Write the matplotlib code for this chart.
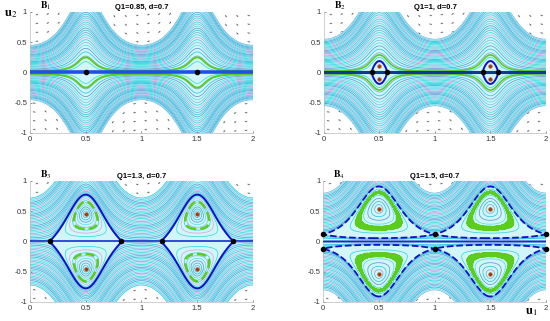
"""Phase portraits B1-B4 for Q1 in {0.85, 1, 1.3, 1.5}, d = 0.7."""

import numpy as np
import matplotlib

matplotlib.use("Agg")
import matplotlib.pyplot as plt

plt.rcParams["font.family"] = ["Liberation Sans", "DejaVu Sans"]
plt.rcParams["mathtext.fontset"] = "stix"

# --- panel data ---
PANEL_TAGS = ["1", "2", "3", "4"]
Q1_VALUES = [0.85, 1.0, 1.3, 1.5]
D_VALUE = 0.7

# potential a(u1) = A_MEAN + A_AMP * (-cos 2 pi u1), weight exp(-BETA * (-cos 2 pi u1))
A_MEAN = [-0.40, -0.2532, 0.0483, 0.1759]
A_AMP = [0.40, 0.2798, 0.1135, 0.0283]
BETA = 0.8
P_EXP, Q_EXP = 2.56, 1.28

# equilibria
SADDLES = [
    [(0.5, 0.0), (1.5, 0.0)],
    [(0.43, 0.0), (0.57, 0.0), (1.43, 0.0), (1.57, 0.0)],
    [(0.18, 0.0), (0.82, 0.0), (1.18, 0.0), (1.82, 0.0)],
    [(0.0, 0.12), (1.0, 0.12), (2.0, 0.12), (0.0, -0.12), (1.0, -0.12), (2.0, -0.12)],
]
CENTERS = [
    [],
    [(0.5, 0.11), (0.5, -0.11), (1.5, 0.11), (1.5, -0.11)],
    [(0.5, 0.45), (0.5, -0.45), (1.5, 0.45), (1.5, -0.45)],
    [(0.5, 0.54), (0.5, -0.54), (1.5, 0.54), (1.5, -0.54)],
]
# highest streamline at u1 = 0 (or 1), and number of streamlines
OUTER_TOP = [0.45, 0.55, 0.72, 0.80]
OUTER_COUNT = [30, 30, 30, 30]
INNER_COUNT = [0, 0, 9, 8]
# green orbit crosses u1 = 0.5 at these heights (band for B4)
GREEN_Y = [[0.25], [0.29], [0.66], [0.835, 0.79]]
GREEN_LW = [1.4, 1.2, 1.8, 1.0]
AXIS_LW = [2.6, 2.2, 1.2, 1.0]
AXIS_COLORS = ["#2050e6", "#0e3a96", "#1530d0", "#1530d0"]

LINE_COLORS = ["#33dede", "#7fa8dc", "#20cbe8", "#6a94d6", "#55e3e3", "#8fb8e6",
               "#2fd6e6", "#d9a6e6"]

FIG_RECTS = [
    [0.0545, 0.5857, 0.4055, 0.377],
    [0.589, 0.5857, 0.4036, 0.377],
    [0.0545, 0.0592, 0.4055, 0.377],
    [0.5873, 0.0592, 0.4055, 0.377],
]


def hamiltonian(x, y, c, amp):
    phi = -np.cos(2 * np.pi * x)
    w = np.exp(-BETA * phi)
    a = c + amp * phi
    ay = np.abs(y)
    return w * ay ** P_EXP / P_EXP - a * ay ** Q_EXP / Q_EXP


def draw_panel(ax, k):
    c, amp = A_MEAN[k], A_AMP[k]
    xs = np.linspace(0, 2, 801)
    ys = np.linspace(-1.05, 1.05, 700)
    X, Y = np.meshgrid(xs, ys)
    Z = hamiltonian(X, Y, c, amp)

    # direction field (small grey arrows)
    qx = np.linspace(0.05, 1.95, 20)
    qy = np.linspace(-0.95, 0.95, 14)
    QX, QY = np.meshgrid(qx, qy)
    eps = 1e-4
    hx = (hamiltonian(QX + eps, QY, c, amp) - hamiltonian(QX - eps, QY, c, amp)) / (2 * eps)
    hy = (hamiltonian(QX, QY + eps, c, amp) - hamiltonian(QX, QY - eps, c, amp)) / (2 * eps)
    u, v = hy * 222 / 2, -hx * 121 / 2
    n = np.hypot(u, v) + 1e-12
    ax.quiver(QX, QY, u / n, v / n, angles="uv", scale_units="dots", scale=0.34,
              width=0.0028, headwidth=3, headlength=3, headaxislength=2.5,
              color="#606060", zorder=1)

    # streamline levels
    seeds_y = np.linspace(0.012, OUTER_TOP[k], OUTER_COUNT[k])
    if k == 3:
        seeds_y = np.linspace(SADDLES[k][0][1] + 0.01, OUTER_TOP[k], OUTER_COUNT[k])
    outer = hamiltonian(0.0, seeds_y, c, amp)
    levels = outer
    if INNER_COUNT[k]:
        cy = CENTERS[k][0][1]
        top = GREEN_Y[k][0] + 0.08
        inner = hamiltonian(0.5, np.linspace(cy + 0.02, top, INNER_COUNT[k]), c, amp)
        levels = np.concatenate([levels, inner])
    levels = np.unique(np.round(levels, 10))

    # pale cyan wash under the streamlines (hides the arrows there)
    ax.contourf(X, Y, Z, levels=[Z.min() - 1, outer.max()], colors=["#d2f5f8"], zorder=1.5)

    cols = [LINE_COLORS[i % len(LINE_COLORS)] for i in range(len(levels))]
    ax.contour(X, Y, Z, levels=levels, colors=cols, linewidths=0.55, zorder=2)

    # green orbit
    gl = [hamiltonian(0.5, gy, c, amp) for gy in GREEN_Y[k]]
    if len(gl) == 2:
        ax.contourf(X, Y, Z, levels=sorted(gl), colors=["#5ccc1e"], zorder=3)
    ax.contour(X, Y, Z, levels=sorted(gl), colors=["#5ccc1e"], linewidths=GREEN_LW[k], zorder=3)

    # separatrix through the saddles
    if k in (1, 2):
        ax.contour(X, Y, Z, levels=[0.0], colors=["#1010c8"], linewidths=1.4, zorder=4)
    if k == 3:
        sx, sy = SADDLES[k][0]
        ax.contour(X, Y, Z, levels=[hamiltonian(sx, sy, c, amp)], colors=["#1010c8"],
                   linewidths=1.3, zorder=4)
    ax.axhline(0, color=AXIS_COLORS[k], lw=AXIS_LW[k], zorder=4)

    if SADDLES[k]:
        sx, sy = zip(*SADDLES[k])
        ax.scatter(sx, sy, s=9, color="black", zorder=6, clip_on=False)
    if CENTERS[k]:
        cx, cy = zip(*CENTERS[k])
        ax.scatter(cx, cy, s=7, color="#9a3a10", edgecolors="#c86a20", linewidths=0.4, zorder=6)

    ax.set_xlim(0, 2)
    ax.set_ylim(-1, 1)
    ax.set_xticks([0, 0.5, 1, 1.5, 2])
    ax.set_xticklabels(["0", "0.5", "1", "1.5", "2"])
    ax.set_yticks([-1, -0.5, 0, 0.5, 1])
    ax.set_yticklabels(["-1", "-0.5", "0", "0.5", "1"])
    ax.tick_params(direction="in", length=1.5, width=0.4, labelsize=5.5, pad=2, colors="#333333")
    for side in ("top", "right"):
        ax.spines[side].set_visible(False)
    for side in ("left", "bottom"):
        ax.spines[side].set_color("#bbbbbb")
        ax.spines[side].set_linewidth(0.5)

    ax.set_title(f"Q1={Q1_VALUES[k]:g}, d={D_VALUE:g}", fontsize=5.5, fontweight="bold", pad=2)
    ax.text(0.045, 1.0, rf"$\mathbf{{B}}_{PANEL_TAGS[k]}$", transform=ax.transAxes,
            fontsize=7, ha="left", va="bottom")


fig = plt.figure(figsize=(5.5, 3.21), dpi=100)
for k, rect in enumerate(FIG_RECTS):
    draw_panel(fig.add_axes(rect), k)

fig.text(0.007, 0.955, r"$\mathbf{u}_2$", fontsize=9, ha="left", va="center")
fig.text(0.955, 0.028, r"$\mathbf{u}_1$", fontsize=9, ha="left", va="center")

fig.savefig("out.png", dpi=100, facecolor="white")
